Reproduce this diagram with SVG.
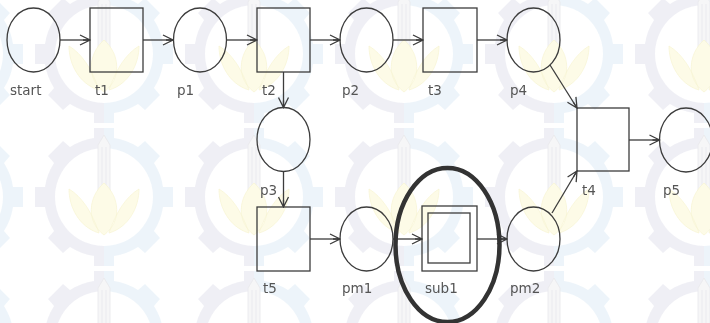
<svg xmlns="http://www.w3.org/2000/svg" xmlns:xlink="http://www.w3.org/1999/xlink" width="710" height="323" viewBox="0 0 710 323">
<style>
.node{fill:none;stroke:#3c3c3c;stroke-width:1.3}
.edge{fill:none;stroke:#3c3c3c;stroke-width:1.3;marker-end:url(#arr)}
.lbl{font-family:"DejaVu Sans",Verdana,sans-serif;font-size:13.5px;fill:#555}
.hl{fill:none;stroke:#333;stroke-width:4.5}
</style>
<defs>
<marker id="arr" markerUnits="userSpaceOnUse" markerWidth="12" markerHeight="12" refX="10" refY="5" orient="auto" viewBox="-1 -1 12 12">
<path d="M0,0 Q6,3 10,5 Q6,7 0,10 M3,5 H10" fill="none" stroke="#3c3c3c" stroke-width="1.3"/>
</marker>
<linearGradient id="gg" x1="0" y1="0" x2="1" y2="0">
<stop offset="0.5" stop-color="#ececf3"/>
<stop offset="0.5" stop-color="#e9f2f9"/>
</linearGradient>
<g id="wm">
<path fill="url(#gg)" fill-rule="evenodd" d="M-10,-69 H10 V-59 A60,60 0 0 1 34,-50 L41,-56 L56,-41 L50,-34 A60,60 0 0 1 59,-10 H69 V10 H59 A60,60 0 0 1 50,34 L56,41 L41,56 L34,50 A60,60 0 0 1 10,59 V69 H-10 V59 A60,60 0 0 1 -34,50 L-41,56 L-56,41 L-50,34 A60,60 0 0 1 -59,10 H-69 V-10 H-59 A60,60 0 0 1 -50,-34 L-56,-41 L-41,-56 L-34,-50 A60,60 0 0 1 -10,-59 Z M0,-49 A49,49 0 1 0 0.01,-49 Z"/>
<path fill="#f4f4f6" stroke="#e6e6ea" stroke-width="1" d="M-6,33 V-52 L0,-62 L6,-52 V33 Z M-2,-50 V30 M2,-50 V30"/>
<path fill="#fdfbe2" stroke="#f6f2cc" stroke-width="0.8" d="M-5,36 C-25,30 -35,10 -35,-8 C-22,0 -12,15 -5,36 Z M5,36 C25,30 35,10 35,-8 C22,0 12,15 5,36 Z M0,38 C-18,25 -16,0 0,-14 C16,0 18,25 0,38 Z"/>
</g>
</defs>
<rect width="710" height="323" fill="#fff"/>
<g id="watermark" opacity="0.8">
<use xlink:href="#wm" x="-46" y="54"/><use xlink:href="#wm" x="104" y="54"/><use xlink:href="#wm" x="254" y="54"/><use xlink:href="#wm" x="404" y="54"/><use xlink:href="#wm" x="554" y="54"/><use xlink:href="#wm" x="704" y="54"/>
<use xlink:href="#wm" x="-46" y="197"/><use xlink:href="#wm" x="104" y="197"/><use xlink:href="#wm" x="254" y="197"/><use xlink:href="#wm" x="404" y="197"/><use xlink:href="#wm" x="554" y="197"/><use xlink:href="#wm" x="704" y="197"/>
<use xlink:href="#wm" x="-46" y="340"/><use xlink:href="#wm" x="104" y="340"/><use xlink:href="#wm" x="254" y="340"/><use xlink:href="#wm" x="404" y="340"/><use xlink:href="#wm" x="554" y="340"/><use xlink:href="#wm" x="704" y="340"/>
</g>
<g id="connectors">
<line class="edge" x1="60" y1="40" x2="90" y2="40"/>
<line class="edge" x1="143" y1="40" x2="173" y2="40"/>
<line class="edge" x1="227" y1="40" x2="257" y2="40"/>
<line class="edge" x1="310" y1="40" x2="340" y2="40"/>
<line class="edge" x1="393" y1="40" x2="423" y2="40"/>
<line class="edge" x1="477" y1="40" x2="507" y2="40"/>
<line class="edge" x1="283.5" y1="72" x2="283.5" y2="107.5"/>
<line class="edge" x1="283.5" y1="171.5" x2="283.5" y2="207"/>
<line class="edge" x1="550" y1="65" x2="577" y2="108"/>
<line class="edge" x1="629" y1="140" x2="659.5" y2="140"/>
<line class="edge" x1="310" y1="239" x2="340" y2="239"/>
<line class="edge" x1="393" y1="239" x2="422" y2="239"/>
<line class="edge" x1="477" y1="239" x2="507" y2="239"/>
<line class="edge" x1="552" y1="213" x2="577" y2="171"/>
</g>
<g id="start"><ellipse class="node" cx="33.5" cy="40" rx="26.5" ry="32"/><text class="lbl" x="10" y="95">start</text></g>
<g id="t1"><rect class="node" x="90" y="8" width="53" height="64"/><text class="lbl" x="95" y="95">t1</text></g>
<g id="p1"><ellipse class="node" cx="200" cy="40" rx="26.5" ry="32"/><text class="lbl" x="177" y="95">p1</text></g>
<g id="t2"><rect class="node" x="257" y="8" width="53" height="64"/><text class="lbl" x="262" y="95">t2</text></g>
<g id="p2"><ellipse class="node" cx="366.5" cy="40" rx="26.5" ry="32"/><text class="lbl" x="342" y="95">p2</text></g>
<g id="t3"><rect class="node" x="423" y="8" width="54" height="64"/><text class="lbl" x="428" y="95">t3</text></g>
<g id="p4"><ellipse class="node" cx="533.5" cy="40" rx="26.5" ry="32"/><text class="lbl" x="510" y="95">p4</text></g>
<g id="p3"><ellipse class="node" cx="283.5" cy="139.5" rx="26.5" ry="32"/><text class="lbl" x="260" y="195">p3</text></g>
<g id="t4"><rect class="node" x="577" y="108" width="52" height="63"/><text class="lbl" x="582" y="195">t4</text></g>
<g id="p5"><ellipse class="node" cx="686" cy="140" rx="26.5" ry="32"/><text class="lbl" x="663" y="195">p5</text></g>
<g id="t5"><rect class="node" x="257" y="207" width="53" height="64"/><text class="lbl" x="263" y="293">t5</text></g>
<g id="pm1"><ellipse class="node" cx="366.5" cy="239" rx="26.5" ry="32"/><text class="lbl" x="342" y="293">pm1</text></g>
<g id="sub1"><rect class="node" x="422" y="206" width="55" height="65"/><rect class="node" x="428" y="213" width="42" height="50" stroke-width="1.6"/><text class="lbl" x="425" y="293">sub1</text></g>
<g id="pm2"><ellipse class="node" cx="533.5" cy="239" rx="26.5" ry="32"/><text class="lbl" x="510" y="293">pm2</text></g>
<g id="highlight"><ellipse class="hl" cx="447.5" cy="245" rx="52" ry="77"/></g>
</svg>
